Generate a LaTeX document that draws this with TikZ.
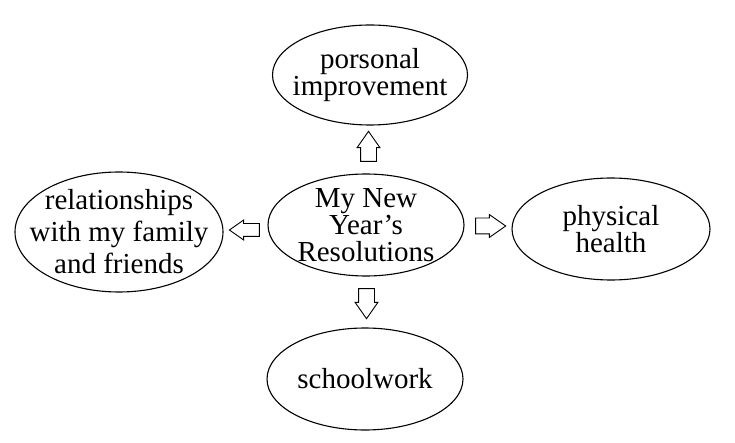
\documentclass[tikz,border=0pt]{standalone}
\usepackage{fontspec}
\setmainfont{Liberation Serif}
\usetikzlibrary{shapes.geometric,shapes.arrows}

\begin{document}
\begin{tikzpicture}[
  x=1pt, y=-1pt,
  goal/.style={draw, ellipse, line width=1.1pt, inner sep=-40pt, align=center,
    font=\fontsize{29}{27}\selectfont, minimum width=196pt, minimum height=102pt},
  blockarrow/.style={draw, single arrow, line width=0.9pt, inner xsep=0pt, inner ysep=7.5pt,
    minimum height=30pt, single arrow head extend=3.5pt, single arrow tip angle=70}
]
\useasboundingbox (0,0) rectangle (735,443);
\node[goal] (hub) at (366,225) {My New\\Year's\\Resolutions};
\node[goal, minimum width=195pt, minimum height=100pt] (improve) at (370,75) {porsonal\\improvement};
\node[goal, minimum width=208pt, minimum height=120pt, font=\fontsize{29}{32}\selectfont] (family) at (119,232) {relationships\\with my family\\and friends};
\node[goal, minimum width=198pt] (health) at (611,229) {physical\\health};
\node[goal] (school) at (365,379) {schoolwork};

\node[blockarrow, rotate=90] (toimprove) at (368.5,152) {};
\node[blockarrow, rotate=180, inner ysep=6pt] (tofamily) at (249,230) {};
\node[blockarrow] (tohealth) at (485,226) {};
\node[blockarrow, rotate=-90] (toschool) at (366.5,298) {};
\end{tikzpicture}
\end{document}
